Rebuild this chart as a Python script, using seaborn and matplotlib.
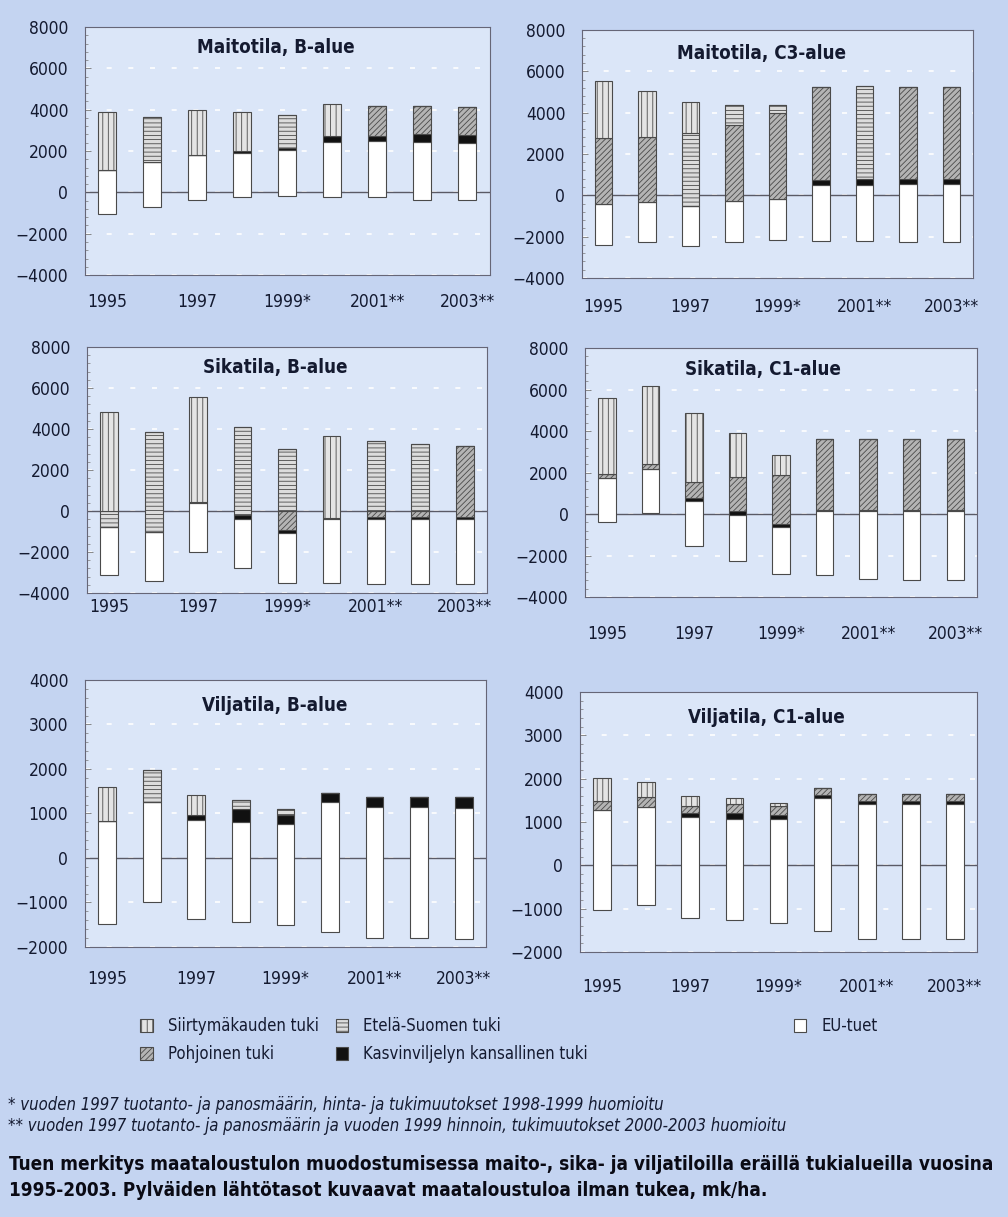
import numpy as np
import matplotlib
matplotlib.use("Agg")
import matplotlib.pyplot as plt
import seaborn as sns
from matplotlib import font_manager
from matplotlib.patches import Patch
from matplotlib.ticker import AutoMinorLocator, MultipleLocator

# --- data (mk/ha) ---
years = ["1995", "1996", "1997", "1998", "1999", "2000", "2001", "2002", "2003"]
tick_labels = ["1995", "", "1997", "", "1999*", "", "2001**", "", "2003**"]

# Maitotila, B-alue
mb_base = [-1050, -690, -350, -240, -190, -240, -240, -350, -350]
mb_eu = [2150, 2140, 2160, 2150, 2240, 2700, 2740, 2770, 2750]
mb_kasvi = [0, 0, 0, 90, 80, 290, 250, 410, 390]
mb_pohj = [0, 0, 0, 0, 0, 0, 1450, 1370, 1330]
mb_etela = [0, 2180, 0, 0, 1620, 0, 0, 0, 0]
mb_siirt = [2800, 0, 2190, 1880, 0, 1530, 0, 0, 0]

# Maitotila, C3-alue
mc_base = [-2410, -2280, -2440, -2250, -2150, -2200, -2200, -2280, -2280]
mc_eu = [1980, 1960, 1930, 1960, 1990, 2680, 2680, 2810, 2810]
mc_kasvi = [0, 0, 0, 0, 0, 260, 320, 270, 240]
mc_pohj = [3180, 3130, 0, 3710, 4140, 4500, 0, 4450, 4480]
mc_etela = [0, 0, 3500, 930, 410, 0, 4470, 0, 0]
mc_siirt = [2760, 2220, 1510, 0, 0, 0, 0, 0, 0]

# Sikatila, B-alue
sb_base = [-3130, -3420, -2000, -2770, -3500, -3520, -3560, -3560, -3560]
sb_eu = [2370, 2390, 2390, 2400, 2450, 3130, 3160, 3160, 3160]
sb_kasvi = [0, 0, 60, 190, 150, 70, 130, 130, 130]
sb_pohj = [0, 0, 0, 0, 900, 0, 270, 270, 3430]
sb_etela = [760, 4890, 0, 4290, 3050, 0, 3435, 3290, 0]
sb_siirt = [4850, 0, 5100, 0, 0, 3965, 0, 0, 0]

# Sikatila, C1-alue
sc_base = [-390, 30, -1540, -2250, -2900, -2950, -3110, -3190, -3190]
sc_eu = [2110, 2160, 2190, 2200, 2270, 3080, 3240, 3320, 3320]
sc_kasvi = [0, 0, 100, 200, 150, 80, 80, 60, 60]
sc_pohj = [230, 210, 810, 1630, 2360, 3430, 3430, 3450, 3450]
sc_etela = [0, 0, 0, 0, 0, 0, 0, 0, 0]
sc_siirt = [3660, 3770, 3320, 2110, 970, 0, 0, 0, 0]

# Viljatila, B-alue
vb_base = [-1490, -990, -1380, -1430, -1510, -1660, -1810, -1810, -1820]
vb_eu = [2310, 2250, 2240, 2245, 2280, 2915, 2960, 2960, 2950]
vb_kasvi = [0, 0, 100, 280, 190, 200, 216, 216, 238]
vb_pohj = [0, 0, 0, 0, 0, 0, 0, 0, 0]
vb_etela = [0, 710, 0, 210, 140, 0, 0, 0, 0]
vb_siirt = [770, 0, 450, 0, 0, 0, 0, 0, 0]

# Viljatila, C1-alue
vc_base = [-1030, -915, -1210, -1265, -1340, -1510, -1690, -1690, -1690]
vc_eu = [2300, 2270, 2330, 2325, 2400, 3055, 3115, 3115, 3115]
vc_kasvi = [0, 0, 80, 155, 115, 75, 60, 60, 60]
vc_pohj = [225, 230, 170, 195, 195, 165, 170, 170, 170]
vc_etela = [0, 0, 0, 0, 0, 0, 0, 0, 0]
vc_siirt = [520, 340, 230, 155, 80, 0, 0, 0, 0]

series_names = ["EU-tuet", "Kasvinviljelyn kansallinen tuki", "Pohjoinen tuki",
                "Etelä-Suomen tuki", "Siirtymäkauden tuki"]

panels = [
    ("Maitotila, B-alue", mb_base, [mb_eu, mb_kasvi, mb_pohj, mb_etela, mb_siirt]),
    ("Maitotila, C3-alue", mc_base, [mc_eu, mc_kasvi, mc_pohj, mc_etela, mc_siirt]),
    ("Sikatila, B-alue", sb_base, [sb_eu, sb_kasvi, sb_pohj, sb_etela, sb_siirt]),
    ("Sikatila, C1-alue", sc_base, [sc_eu, sc_kasvi, sc_pohj, sc_etela, sc_siirt]),
    ("Viljatila, B-alue", vb_base, [vb_eu, vb_kasvi, vb_pohj, vb_etela, vb_siirt]),
    ("Viljatila, C1-alue", vc_base, [vc_eu, vc_kasvi, vc_pohj, vc_etela, vc_siirt]),
]

# --- styling ---
sns.set_theme(style="ticks")
names = {f.name for f in font_manager.fontManager.ttflist}
narrow = "Liberation Sans Narrow" if "Liberation Sans Narrow" in names else "DejaVu Sans"
plt.rcParams["font.family"] = [narrow, "DejaVu Sans"]
plt.rcParams["font.stretch"] = "condensed"
plt.rcParams["hatch.linewidth"] = 0.6

BG = "#c4d4f1"
AX_BG = "#dbe6f8"
EDGE = "#4a4a4a"
TXT = "#141a30"

styles = {
    "EU-tuet": dict(color="white", hatch=None),
    "Kasvinviljelyn kansallinen tuki": dict(color="#111111", hatch=None),
    "Pohjoinen tuki": dict(color="#b4b4b4", hatch="//////"),
    "Etelä-Suomen tuki": dict(color="#dcdcdc", hatch="----"),
    "Siirtymäkauden tuki": dict(color="#e4e4e4", hatch="|||"),
}

# axes rectangles (figure fractions), y-limits, major step, title pos, x-label pad
layout = [
    ([0.0843, 0.774, 0.4018, 0.2038], (-4000, 8000), 2000, (0.47, 0.919), 13),
    ([0.5774, 0.7716, 0.3879, 0.2038], (-4000, 8000), 2000, (0.46, 0.907), 14.5),
    ([0.0863, 0.5127, 0.3968, 0.2021], (-4000, 8000), 2000, (0.47, 0.919), 3.5),
    ([0.5804, 0.5094, 0.3889, 0.2046], (-4000, 8000), 2000, (0.454, 0.912), 20),
    ([0.0843, 0.2219, 0.3978, 0.2194], (-2000, 4000), 1000, (0.474, 0.906), 16.5),
    ([0.5754, 0.2177, 0.3938, 0.2136], (-2000, 4000), 1000, (0.469, 0.904), 19),
]

fig = plt.figure(figsize=(10.08, 12.17), dpi=100, facecolor=BG)

for (title, base, parts), (rect, ylim, step, tpos, xpad) in zip(panels, layout):
    ax = fig.add_axes(rect)
    ax.set_facecolor(AX_BG)
    bottom = np.array(base, dtype=float)
    for name, vals in zip(series_names, parts):
        vals = np.array(vals, dtype=float)
        st = styles[name]
        kw = dict(hatch=st["hatch"]) if st["hatch"] else {}
        sns.barplot(x=years, y=vals, order=years, bottom=bottom, width=0.4,
                    color=st["color"], saturation=1, edgecolor=EDGE,
                    linewidth=0.8, errorbar=None, ax=ax, zorder=3, **kw)
        bottom = bottom + vals

    ax.set_xlim(-0.5, len(years) - 0.5)
    ax.set_ylim(*ylim)
    ax.yaxis.set_major_locator(MultipleLocator(step))
    ax.yaxis.set_minor_locator(AutoMinorLocator(5))
    ax.set_xticks(range(len(years)))
    ax.set_xticklabels(tick_labels)
    ax.set_xlabel("")
    ax.set_ylabel("")
    ax.tick_params(axis="x", length=0, pad=xpad, labelsize=12.5, labelcolor=TXT)
    ax.tick_params(axis="y", which="major", direction="in", length=4, width=0.6,
                   color="#777777", pad=12, labelsize=12.5, labelcolor=TXT)
    ax.tick_params(axis="y", which="minor", direction="in", length=2.5, width=0.5,
                   color="#777777")
    ax.yaxis.grid(True, which="major", color="white", linestyle=(0, (3, 10)), lw=1.2)
    ax.xaxis.grid(False)
    ax.set_axisbelow(True)
    ax.axhline(0, color="#5a5a66", lw=1.0, zorder=1)
    for sp in ax.spines.values():
        sp.set_visible(True)
        sp.set_color("#666677")
        sp.set_linewidth(0.8)
    ax.text(tpos[0], tpos[1], title, transform=ax.transAxes, ha="center", va="center",
            fontsize=13.5, fontweight="bold", color=TXT, zorder=5)

# --- legend, three separate blocks like in the original ---
def handle(name):
    st = styles[name]
    return Patch(facecolor=st["color"], edgecolor=EDGE, hatch=st["hatch"], linewidth=0.8)

leg_kw = dict(frameon=False, fontsize=12, handlelength=0.75, handleheight=0.75,
              handletextpad=0.9, labelspacing=0.6, borderpad=0, loc="upper left",
              labelcolor=TXT)
blocks = [
    (["Siirtymäkauden tuki", "Pohjoinen tuki"], 0.131),
    (["Etelä-Suomen tuki", "Kasvinviljelyn kansallinen tuki"], 0.325),
    (["EU-tuet"], 0.779),
]
for labels, x0 in blocks:
    fig.legend([handle(n) for n in labels], labels,
               bbox_to_anchor=(x0, 1 - 1009 / 1217), **leg_kw)

# --- footnotes and caption ---
fig.text(0.008, 1 - 1105 / 1217,
         "* vuoden 1997 tuotanto- ja panosmäärin, hinta- ja tukimuutokset 1998-1999 huomioitu",
         fontsize=12, style="italic", color=TXT, va="center")
fig.text(0.008, 1 - 1126 / 1217,
         "** vuoden 1997 tuotanto- ja panosmäärin ja vuoden 1999 hinnoin, tukimuutokset 2000-2003 huomioitu",
         fontsize=12, style="italic", color=TXT, va="center")
fig.text(0.009, 1 - 1164 / 1217,
         "Tuen merkitys maataloustulon muodostumisessa maito-, sika- ja viljatiloilla eräillä tukialueilla vuosina",
         fontsize=13.6, fontweight="bold", color="#0a0a14", va="center")
fig.text(0.009, 1 - 1190 / 1217,
         "1995-2003. Pylväiden lähtötasot kuvaavat maataloustuloa ilman tukea, mk/ha.",
         fontsize=13.6, fontweight="bold", color="#0a0a14", va="center")

fig.savefig("out.png", dpi=100, facecolor=BG)
